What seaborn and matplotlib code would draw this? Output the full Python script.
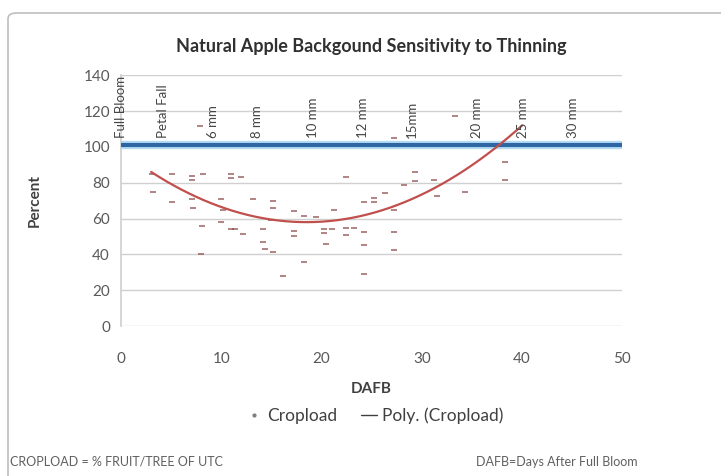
import numpy as np
import pandas as pd
import matplotlib
matplotlib.use("Agg")
import matplotlib.pyplot as plt
from matplotlib.patches import FancyBboxPatch
from matplotlib.lines import Line2D
import seaborn as sns

# Cropload observations: days after full bloom vs. % fruit/tree of untreated control
dafb = [3.1, 3.2, 5.1, 5.1, 7.1, 7.1, 7.1, 7.2, 7.9, 8.2, 8.05, 8.0,
        10.0, 10.2, 10.0, 11.0, 11.0, 11.0, 12.0, 13.2, 11.4, 12.2,
        14.2, 14.2, 14.4, 15.2, 15.2, 15.2, 15.0, 17.2, 17.2, 17.2,
        18.2, 19.4, 18.2, 16.2, 20.2, 20.2, 21.0, 21.2, 20.4, 22.4,
        22.4, 25.2, 25.2, 24.2, 26.3, 23.2, 22.4, 24.2, 24.2, 24.2,
        27.2, 27.2, 27.2, 29.3, 29.3, 28.2, 31.5, 31.2, 27.2, 34.3,
        38.3, 33.3, 38.3]
cropload = [85, 75, 85, 69, 84, 81.6, 70.7, 66, 111.6, 85, 56, 40,
            70.7, 65, 58, 54, 85, 82.5, 83, 70.7, 54, 51.5,
            54, 47, 43, 41.5, 70, 66, 59, 64, 53, 50,
            61.5, 60.6, 36, 28, 54, 52, 54, 65, 46, 55,
            83, 71.6, 69, 69, 74, 55, 50.6, 52.5, 45, 29,
            65, 52.5, 42.5, 86, 80.7, 79, 72.5, 81.6, 105, 75,
            81.6, 117, 91.6]

# Second-order trendline (coefficients of the polynomial, highest power first)
trend_coef = [0.1166, -4.314, 97.9]
trend_start, trend_end = 3, 40

# Untreated control reference level
control_level = 101

# Fruit development stages and the day they occur
stage_labels = ["Full Bloom", "Petal Fall", "6 mm", "8 mm", "10 mm", "12 mm",
                "15mm", "20 mm", "25 mm", "30 mm"]
stage_days = [0.0, 4.2, 9.2, 13.6, 19.1, 24.1, 29.0, 35.5, 40.1, 45.1]

x_ticks = [0, 10, 20, 30, 40, 50]
y_ticks = [0, 20, 40, 60, 80, 100, 120, 140]

sns.set_theme(style="white")
plt.rcParams["font.family"] = ["Lato", "DejaVu Sans"]

fig = plt.figure(figsize=(7.21, 4.76), dpi=100)
ax = fig.add_axes([0.168, 0.315, 0.695, 0.527])

# outer chart frame
frame_top = 1 - 13 / 476
frame = FancyBboxPatch((8 / 721, -0.05), 1.2, frame_top + 0.05,
                       boxstyle="round,pad=0,rounding_size=0.012",
                       transform=fig.transFigure, fill=False,
                       edgecolor="#bfbfbf", linewidth=1.2, zorder=0)
fig.patches.append(frame)

obs = pd.DataFrame({"DAFB": dafb, "Cropload": cropload})
trend_x = np.linspace(trend_start, trend_end, 200)
trend = pd.DataFrame({"DAFB": trend_x, "Cropload": np.polyval(trend_coef, trend_x)})

# control level band
ax.axhline(control_level, color="#b4dcf5", linewidth=6, zorder=2)
ax.axhline(control_level, color="#2d66a3", linewidth=3, zorder=3)

sns.scatterplot(data=obs, x="DAFB", y="Cropload", marker="_", s=20,
                color="#8a4848", linewidth=1.1, alpha=0.85, ax=ax, zorder=4,
                legend=False)
sns.lineplot(data=trend, x="DAFB", y="Cropload", color="#c0504d",
             linewidth=1.6, ax=ax, zorder=5, legend=False)

for lbl, d in zip(stage_labels, stage_days):
    ax.text(d, 105, lbl, rotation=90, ha="center", va="bottom",
            fontsize=9.5, color="#454545", zorder=6, clip_on=False)

ax.set_xlim(0, 50)
ax.set_ylim(0, 140)
ax.set_xticks(x_ticks)
ax.set_yticks(y_ticks)
ax.tick_params(axis="y", labelsize=11, colors="#595959", length=0, pad=8)
ax.tick_params(axis="x", labelsize=11, colors="#595959", length=0, pad=19)
ax.yaxis.grid(True, color="#d0d0d0", linewidth=1)
ax.xaxis.grid(False)
for side in ["top", "right", "bottom"]:
    ax.spines[side].set_visible(False)
ax.spines["left"].set_color("#d0d0d0")

ax.set_xlabel("DAFB", fontsize=11, fontweight="bold", color="#404040", labelpad=11)
ax.set_ylabel("Percent", fontsize=11, fontweight="bold", color="#404040", labelpad=30)
ax.set_title("Natural Apple Backgound Sensitivity to Thinning", fontsize=13,
             fontweight="bold", color="#303030", pad=17)

handles = [Line2D([], [], marker=".", linestyle="none", color="#7f7f7f", markersize=4),
           Line2D([], [], color="#404040", linewidth=1)]
fig.legend(handles, ["Cropload", "Poly. (Cropload)"], loc="center",
           bbox_to_anchor=(0.52, 0.126), ncol=2, frameon=False, fontsize=12.5,
           handlelength=0.9, handletextpad=0.3, columnspacing=1.4,
           labelcolor="#404040")

fig.text(10 / 721, 1 - 462 / 476, "CROPLOAD = % FRUIT/TREE OF UTC",
         fontsize=9, color="#606060", va="center", ha="left")
fig.text(476 / 721, 1 - 462 / 476, "DAFB=Days After Full Bloom",
         fontsize=9, color="#606060", va="center", ha="left")

fig.savefig("out.png", dpi=100)
